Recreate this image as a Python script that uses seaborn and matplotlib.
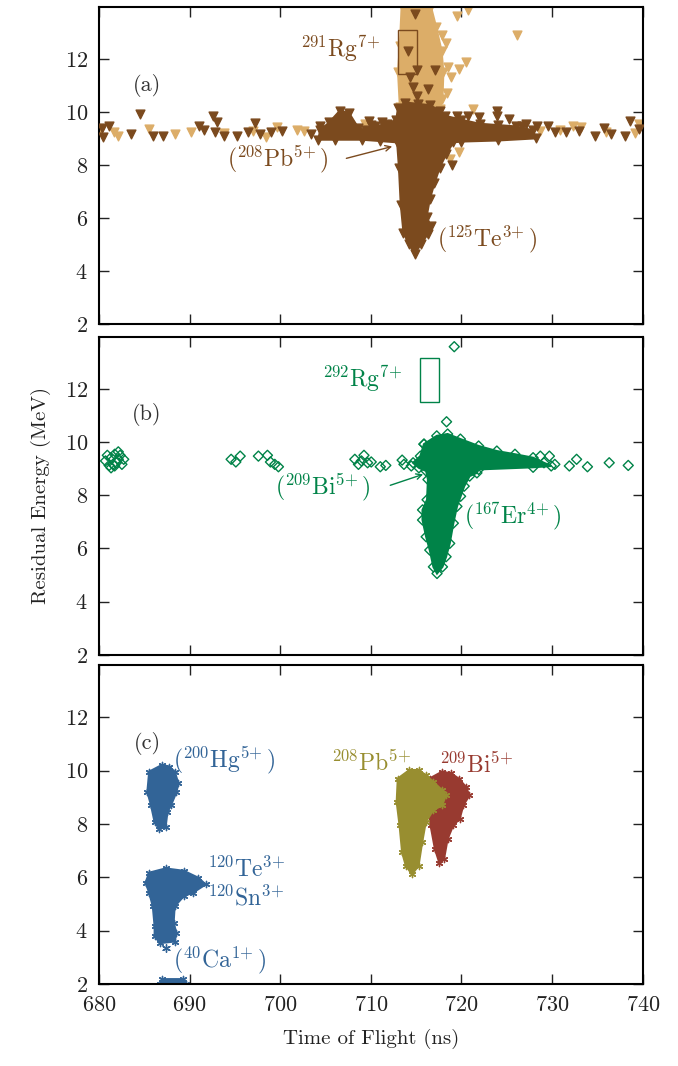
import matplotlib
matplotlib.use("Agg")
import matplotlib.pyplot as plt
import seaborn as sns
import pandas as pd

# colours
BROWN = "#7b4a1e"
TAN = "#dcad68"
GREEN = "#008348"
BLUE = "#326497"
OLIVE = "#988e30"
RED = "#983a30"

# ---- panel (a): dense clouds (outlines)
a_dark_x = [704.2, 704.4, 705.4, 706.6, 707.6, 708.6, 709.5, 710.5, 711.8, 712.8, 713.0, 713.8,
            715.2, 716.5, 717.6, 718.2, 720.0, 722.0, 724.0, 726.0, 727.9, 728.2, 724.0, 720.0,
            719.1, 718.3, 717.6, 717.0, 716.5, 716.15, 716.6, 716.3, 715.5, 714.85, 714.2, 713.6,
            713.3, 713.1, 712.9, 711.0, 709.0, 706.0]
a_dark_y = [8.95, 9.3, 9.6, 10.05, 9.95, 9.4, 9.3, 9.45, 9.55, 9.7, 10.15, 10.35,
            10.3, 10.25, 10.05, 9.85, 9.7, 9.55, 9.5, 9.45, 9.3, 9.0, 8.92, 8.88,
            8.85, 8.4, 7.9, 7.3, 6.7, 6.05, 5.7, 5.4, 5.0, 4.65, 5.0, 5.45,
            6.5, 7.9, 8.85, 8.9, 8.95, 8.95]
a_tan_x = [713.2, 713.0, 713.2, 713.4, 716.6, 717.2, 717.8, 718.0, 717.9, 717.6]
a_tan_y = [10.2, 11.5, 12.5, 14.0, 14.0, 13.2, 12.3, 11.5, 10.5, 10.1]

# isolated events, panel (a)
a_dark_pts_x = [680.3, 681.1, 680.4, 683.5, 684.5, 686.0, 687.1, 691.0, 691.6, 692.6, 693.0, 692.8,
                693.8, 695.2, 696.4, 697.2, 697.8, 699.0, 700.2, 703.4, 704.4, 728.3, 729.5, 730.3,
                731.5, 733.0, 734.7, 735.7, 736.5, 738.0, 738.6, 739.6, 719.5, 720.7, 721.9, 723.9,
                723.9, 725.2, 726.7, 727.1, 714.9, 714.1, 715.1, 714.3, 714.7, 717.1, 716.3, 715.1,
                718.9, 710.0, 711.2, 709.8]
a_dark_pts_y = [9.38, 9.48, 9.04, 9.16, 9.92, 9.1, 9.1, 9.45, 9.32, 9.86, 9.6, 9.23,
                9.1, 9.08, 9.25, 9.58, 9.16, 9.23, 9.29, 9.16, 9.45, 9.45, 9.48, 9.23,
                9.23, 9.29, 9.1, 9.38, 9.16, 9.1, 9.67, 9.35, 9.86, 9.86, 9.8, 10.05,
                9.85, 9.73, 9.48, 9.55, 13.7, 12.3, 11.56, 11.3, 10.93, 11.56, 10.87, 10.6,
                8.0, 9.5, 9.6, 9.65]
a_tan_pts_x = [680.1, 681.7, 682.1, 685.5, 688.4, 690.2, 693.8, 697.0, 698.4, 699.6, 701.8, 702.6,
               707.3, 709.4, 721.3, 728.7, 732.3, 733.2, 739.6, 739.2, 718.7, 719.7, 719.5, 720.7,
               726.1, 720.5, 719.7, 718.5, 717.9, 718.3, 718.8, 718.4, 724.6, 730.9, 736.0]
a_tan_pts_y = [9.29, 9.23, 9.1, 9.35, 9.16, 9.25, 9.2, 9.29, 9.04, 9.42, 9.33, 9.29,
               9.5, 9.54, 10.1, 9.29, 9.48, 9.42, 9.54, 9.2, 8.22, 8.47, 13.6, 13.85,
               12.9, 11.87, 11.6, 11.7, 12.9, 12.6, 11.3, 10.7, 9.2, 9.3, 9.25]

# ---- panel (b)
b_cloud_x = [714.66, 715.46, 715.86, 717.27, 718.47, 719.88, 721.89, 723.9, 725.9, 727.9, 729.1,
             729.9, 727.9, 721.89, 721.7, 720.9, 720.3, 719.9, 719.5, 719.1, 718.7, 718.3, 717.9,
             717.3, 716.9, 716.5, 716.1, 715.7, 715.7, 716.2, 716.3, 716.1, 715.3]
b_cloud_y = [9.22, 9.47, 9.92, 10.23, 10.3, 10.11, 9.85, 9.66, 9.54, 9.41, 9.22,
             9.1, 9.05, 8.97, 8.84, 8.72, 8.34, 7.96, 7.58, 6.95, 6.19, 5.69, 5.31,
             5.06, 5.31, 5.94, 6.44, 7.07, 7.45, 7.83, 8.59, 8.91, 9.03]
b_pts_x = [680.92, 680.72, 681.33, 681.73, 682.13, 682.33, 682.73, 681.53, 681.33, 681.93, 682.53,
           681.73, 681.12, 682.13, 694.58, 695.1, 695.58, 697.59, 698.59, 698.92, 699.4, 699.8,
           708.23, 708.63, 709.24, 708.96, 709.64, 710.04, 711.04, 711.65, 713.45, 713.65, 714.46,
           715.86, 728.7, 729.7, 730.3, 732.7, 733.9, 736.3, 738.4, 731.9, 719.2, 718.35]
b_pts_y = [9.5, 9.29, 9.41, 9.54, 9.63, 9.5, 9.35, 9.16, 9.03, 9.22, 9.16,
           9.1, 9.12, 9.35, 9.35, 9.25, 9.47, 9.47, 9.5, 9.25, 9.16, 9.07,
           9.35, 9.16, 9.5, 9.29, 9.22, 9.25, 9.07, 9.12, 9.32, 9.16, 9.1,
           9.92, 9.47, 9.47, 9.16, 9.35, 9.07, 9.22, 9.12, 9.1, 13.58, 10.76]

# ---- panel (c): calibration reactions
hg_x = [686.95, 685.54, 685.34, 685.74, 686.14, 686.63, 687.35, 687.55, 687.95, 688.55, 688.76,
        688.35, 687.75]
hg_y = [10.21, 9.96, 9.2, 8.7, 8.07, 7.81, 7.88, 8.44, 8.7, 9.2, 9.52, 9.96, 10.15]
te_x = [687.35, 685.54, 685.14, 685.54, 685.94, 686.14, 686.14, 686.75, 688.35, 688.55, 688.23,
        688.35, 689.36, 690.36, 691.77, 690.96, 689.36]
te_y = [6.33, 6.17, 5.8, 5.42, 4.91, 4.16, 3.78, 3.53, 3.59, 3.91, 4.28,
        4.91, 5.29, 5.42, 5.73, 5.98, 6.24]
ca_x = [686.7, 687.0, 689.3, 689.6, 689.3, 687.0]
ca_y = [2.0, 2.18, 2.18, 2.0, 1.8, 1.8]
pb_x = [714.26, 712.97, 712.85, 713.17, 713.45, 713.86, 714.54, 715.26, 715.66, 716.06, 716.87,
        717.87, 718.27, 717.87, 716.87, 716.06, 715.26]
pb_y = [10.02, 9.7, 8.82, 7.94, 6.93, 6.43, 6.11, 6.43, 7.31, 8.07, 8.51,
        8.7, 9.07, 9.26, 9.58, 9.83, 10.02]
bi_x = [717.87, 716.47, 716.27, 716.59, 717.07, 717.55, 718.07, 718.47, 719.08, 719.8, 720.2,
        720.88, 720.48, 719.68, 718.88]
bi_y = [9.96, 9.7, 8.95, 7.94, 7.06, 6.55, 6.68, 7.44, 7.94, 8.19, 8.7,
        9.07, 9.39, 9.7, 9.89]
c_pts_x = [687.35]
c_pts_y = [3.34]

xticks = [680, 690, 700, 710, 720, 730, 740]
yticks = [2, 4, 6, 8, 10, 12]

sns.set_style("ticks")
plt.rcParams["font.family"] = ["cmr10", "DejaVu Serif"]
plt.rcParams["mathtext.fontset"] = "cm"
plt.rcParams["axes.formatter.use_mathtext"] = True

ASTER = (6, 2, 0)


def draw_points(ax, xs, ys, color, marker, s, filled=True, z=4):
    df = pd.DataFrame({"x": xs, "y": ys})
    if filled:
        sns.scatterplot(data=df, x="x", y="y", ax=ax, marker=marker, s=s, color=color,
                        edgecolor=color, linewidth=1.0, zorder=z, legend=False)
    else:
        sns.scatterplot(data=df, x="x", y="y", ax=ax, marker=marker, s=s, facecolor="none",
                        edgecolor=color, linewidth=1.0, zorder=z, legend=False)


def draw_cloud(ax, xs, ys, color, marker, s, filled=True, z=2):
    ax.fill(xs, ys, color=color, lw=1.5, zorder=z)
    draw_points(ax, xs, ys, color, marker, s, filled=filled, z=z + 0.1)


fig = plt.figure(figsize=(6.78, 10.66), dpi=100)
left, width = 0.146, 0.802
ax_a = fig.add_axes([left, 0.696, width, 0.2974])
ax_b = fig.add_axes([left, 0.3856, width, 0.2984])
ax_c = fig.add_axes([left, 0.077, width, 0.2990])

FS = 17

# (a)
draw_cloud(ax_a, a_tan_x, a_tan_y, TAN, "v", 40, z=2)
draw_points(ax_a, a_tan_pts_x, a_tan_pts_y, TAN, "v", 40, z=2.5)
draw_cloud(ax_a, a_dark_x, a_dark_y, BROWN, "v", 40, z=3)
draw_points(ax_a, a_dark_pts_x, a_dark_pts_y, BROWN, "v", 40, z=4)
ax_a.add_patch(plt.Rectangle((713.0, 11.42), 2.1, 1.68, fill=False, ec=BROWN, lw=1.0, zorder=5))
ax_a.text(711.0, 12.38, r"$^{291}\mathrm{Rg}^{7\!+}$", color=BROWN, fontsize=FS,
          ha="right", va="center")
ax_a.text(705.3, 8.2, r"$(^{208}\mathrm{Pb}^{5\!+})$", color=BROWN, fontsize=FS,
          ha="right", va="center")
ax_a.annotate("", xy=(712.65, 8.72), xytext=(707.0, 8.22),
              arrowprops=dict(arrowstyle="->", color=BROWN, lw=1.0))
ax_a.text(717.3, 5.2, r"$(^{125}\mathrm{Te}^{3\!+})$", color=BROWN, fontsize=FS,
          ha="left", va="center")
ax_a.text(685.3, 10.99, "(a)", color="#333333", fontsize=16, ha="center", va="center")

# (b)
draw_cloud(ax_b, b_cloud_x, b_cloud_y, GREEN, "D", 26, filled=False)
draw_points(ax_b, b_pts_x, b_pts_y, GREEN, "D", 26, filled=False)
ax_b.add_patch(plt.Rectangle((715.4, 11.5), 2.15, 1.66, fill=False, ec=GREEN, lw=1.0, zorder=5))
ax_b.text(713.45, 12.38, r"$^{292}\mathrm{Rg}^{7\!+}$", color=GREEN, fontsize=FS,
          ha="right", va="center")
ax_b.text(710.0, 8.28, r"$(^{209}\mathrm{Bi}^{5\!+})$", color=GREEN, fontsize=FS,
          ha="right", va="center")
ax_b.annotate("", xy=(716.06, 8.82), xytext=(711.85, 8.34),
              arrowprops=dict(arrowstyle="->", color=GREEN, lw=1.0))
ax_b.text(720.28, 7.2, r"$(^{167}\mathrm{Er}^{4\!+})$", color=GREEN, fontsize=FS,
          ha="left", va="center")
ax_b.text(685.3, 11.05, "(b)", color="#333333", fontsize=16, ha="center", va="center")
ax_b.set_ylabel("Residual Energy (MeV)", fontsize=15, color="#222222", labelpad=10)

# (c)
draw_cloud(ax_c, hg_x, hg_y, BLUE, ASTER, 20, z=2)
draw_cloud(ax_c, te_x, te_y, BLUE, ASTER, 20, z=2)
draw_cloud(ax_c, ca_x, ca_y, BLUE, ASTER, 20, z=2)
draw_points(ax_c, c_pts_x, c_pts_y, BLUE, ASTER, 30, z=2)
draw_cloud(ax_c, bi_x, bi_y, RED, ASTER, 20, z=3)
draw_cloud(ax_c, pb_x, pb_y, OLIVE, ASTER, 20, z=4)
ax_c.text(688.15, 10.4, r"$(^{200}\mathrm{Hg}^{5\!+})$", color=BLUE, fontsize=FS,
          ha="left", va="center")
ax_c.text(691.97, 6.3, r"$^{120}\mathrm{Te}^{3\!+}$", color=BLUE, fontsize=FS,
          ha="left", va="center")
ax_c.text(691.97, 5.23, r"$^{120}\mathrm{Sn}^{3\!+}$", color=BLUE, fontsize=FS,
          ha="left", va="center")
ax_c.text(688.15, 2.9, r"$(^{40}\mathrm{Ca}^{1\!+})$", color=BLUE, fontsize=FS,
          ha="left", va="center")
ax_c.text(714.5, 10.27, r"$^{208}\mathrm{Pb}^{5\!+}$", color=OLIVE, fontsize=FS,
          ha="right", va="center")
ax_c.text(717.5, 10.2, r"$^{209}\mathrm{Bi}^{5\!+}$", color=RED, fontsize=FS,
          ha="left", va="center")
ax_c.text(685.3, 11.03, "(c)", color="#333333", fontsize=16, ha="center", va="center")
ax_c.set_xlabel("Time of Flight (ns)", fontsize=15, color="#222222", labelpad=10)

for ax in (ax_a, ax_b, ax_c):
    ax.set_xlim(680, 740)
    ax.set_ylim(2, 13.95)
    ax.set_xticks(xticks)
    ax.set_yticks(yticks)
    ax.tick_params(direction="in", length=7, width=1.0, top=True, right=True,
                   labelsize=16, colors="#222222", pad=8)
    for sp in ax.spines.values():
        sp.set_linewidth(1.5)
        sp.set_color("black")
    if ax is not ax_c:
        ax.set_xlabel("")
        ax.tick_params(labelbottom=False)
    if ax is not ax_b:
        ax.set_ylabel("")

fig.savefig("out.png", dpi=100)
